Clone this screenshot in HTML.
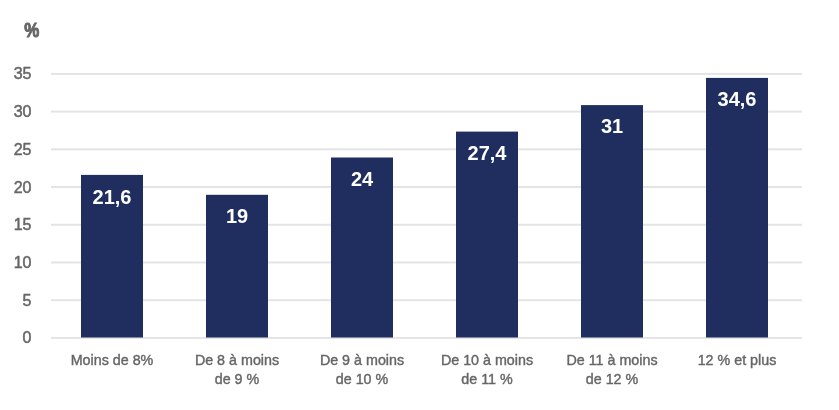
<!DOCTYPE html>
<html><head><meta charset="utf-8"><style>
html,body{margin:0;padding:0;background:#FFFFFF;width:839px;height:410px;overflow:hidden}
svg{display:block;filter:blur(0.7px)}
text{font-family:"Liberation Sans",sans-serif}
.yl{font-size:16px;fill:#666666;stroke:#666666;stroke-width:0.5px}
.xl{font-size:14.3px;fill:#666666;stroke:#666666;stroke-width:0.4px}
.dl{font-size:20px;font-weight:700;fill:#FFFFFF}
.pc{font-size:18px;font-weight:700;fill:#666666;stroke:#666666;stroke-width:0.9px}
</style></head><body>
<svg width="839" height="410" viewBox="0 0 839 410">
<rect width="839" height="410" fill="#FFFFFF"/>
<text transform="translate(24.2,36.8) scale(0.94,1.08)" class="pc">%</text>
<rect x="51" y="336.90" width="751" height="2" fill="#E4E4E4"/>
<text x="31.5" y="343.40" text-anchor="end" class="yl">0</text>
<rect x="51" y="299.19" width="751" height="2" fill="#E4E4E4"/>
<text x="31.5" y="305.69" text-anchor="end" class="yl">5</text>
<rect x="51" y="261.47" width="751" height="2" fill="#E4E4E4"/>
<text x="31.5" y="267.97" text-anchor="end" class="yl">10</text>
<rect x="51" y="223.76" width="751" height="2" fill="#E4E4E4"/>
<text x="31.5" y="230.26" text-anchor="end" class="yl">15</text>
<rect x="51" y="186.04" width="751" height="2" fill="#E4E4E4"/>
<text x="31.5" y="192.54" text-anchor="end" class="yl">20</text>
<rect x="51" y="148.32" width="751" height="2" fill="#E4E4E4"/>
<text x="31.5" y="154.82" text-anchor="end" class="yl">25</text>
<rect x="51" y="110.61" width="751" height="2" fill="#E4E4E4"/>
<text x="31.5" y="117.11" text-anchor="end" class="yl">30</text>
<rect x="51" y="72.90" width="751" height="2" fill="#E4E4E4"/>
<text x="31.5" y="79.40" text-anchor="end" class="yl">35</text>
<rect x="81" y="174.90" width="62" height="162.60" fill="#1F2E5F"/>
<text x="112" y="203.87" text-anchor="middle" class="dl">21,6</text>
<text x="112" y="364.80" text-anchor="middle" class="xl">Moins de 8%</text>
<rect x="206" y="194.80" width="62" height="142.70" fill="#1F2E5F"/>
<text x="237" y="223.48" text-anchor="middle" class="dl">19</text>
<text x="237" y="364.80" text-anchor="middle" class="xl">De 8 à moins</text>
<text x="237" y="384.10" text-anchor="middle" class="xl">de 9 %</text>
<rect x="331" y="157.50" width="62" height="180.00" fill="#1F2E5F"/>
<text x="362" y="185.77" text-anchor="middle" class="dl">24</text>
<text x="362" y="364.80" text-anchor="middle" class="xl">De 9 à moins</text>
<text x="362" y="384.10" text-anchor="middle" class="xl">de 10 %</text>
<rect x="456" y="131.60" width="62" height="205.90" fill="#1F2E5F"/>
<text x="487" y="160.12" text-anchor="middle" class="dl">27,4</text>
<text x="487" y="364.80" text-anchor="middle" class="xl">De 10 à moins</text>
<text x="487" y="384.10" text-anchor="middle" class="xl">de 11 %</text>
<rect x="581" y="105.10" width="62" height="232.40" fill="#1F2E5F"/>
<text x="612" y="132.97" text-anchor="middle" class="dl">31</text>
<text x="612" y="364.80" text-anchor="middle" class="xl">De 11 à moins</text>
<text x="612" y="384.10" text-anchor="middle" class="xl">de 12 %</text>
<rect x="706" y="77.90" width="62" height="259.60" fill="#1F2E5F"/>
<text x="737" y="105.81" text-anchor="middle" class="dl">34,6</text>
<text x="737" y="364.80" text-anchor="middle" class="xl">12 % et plus</text>
</svg>
</body></html>
